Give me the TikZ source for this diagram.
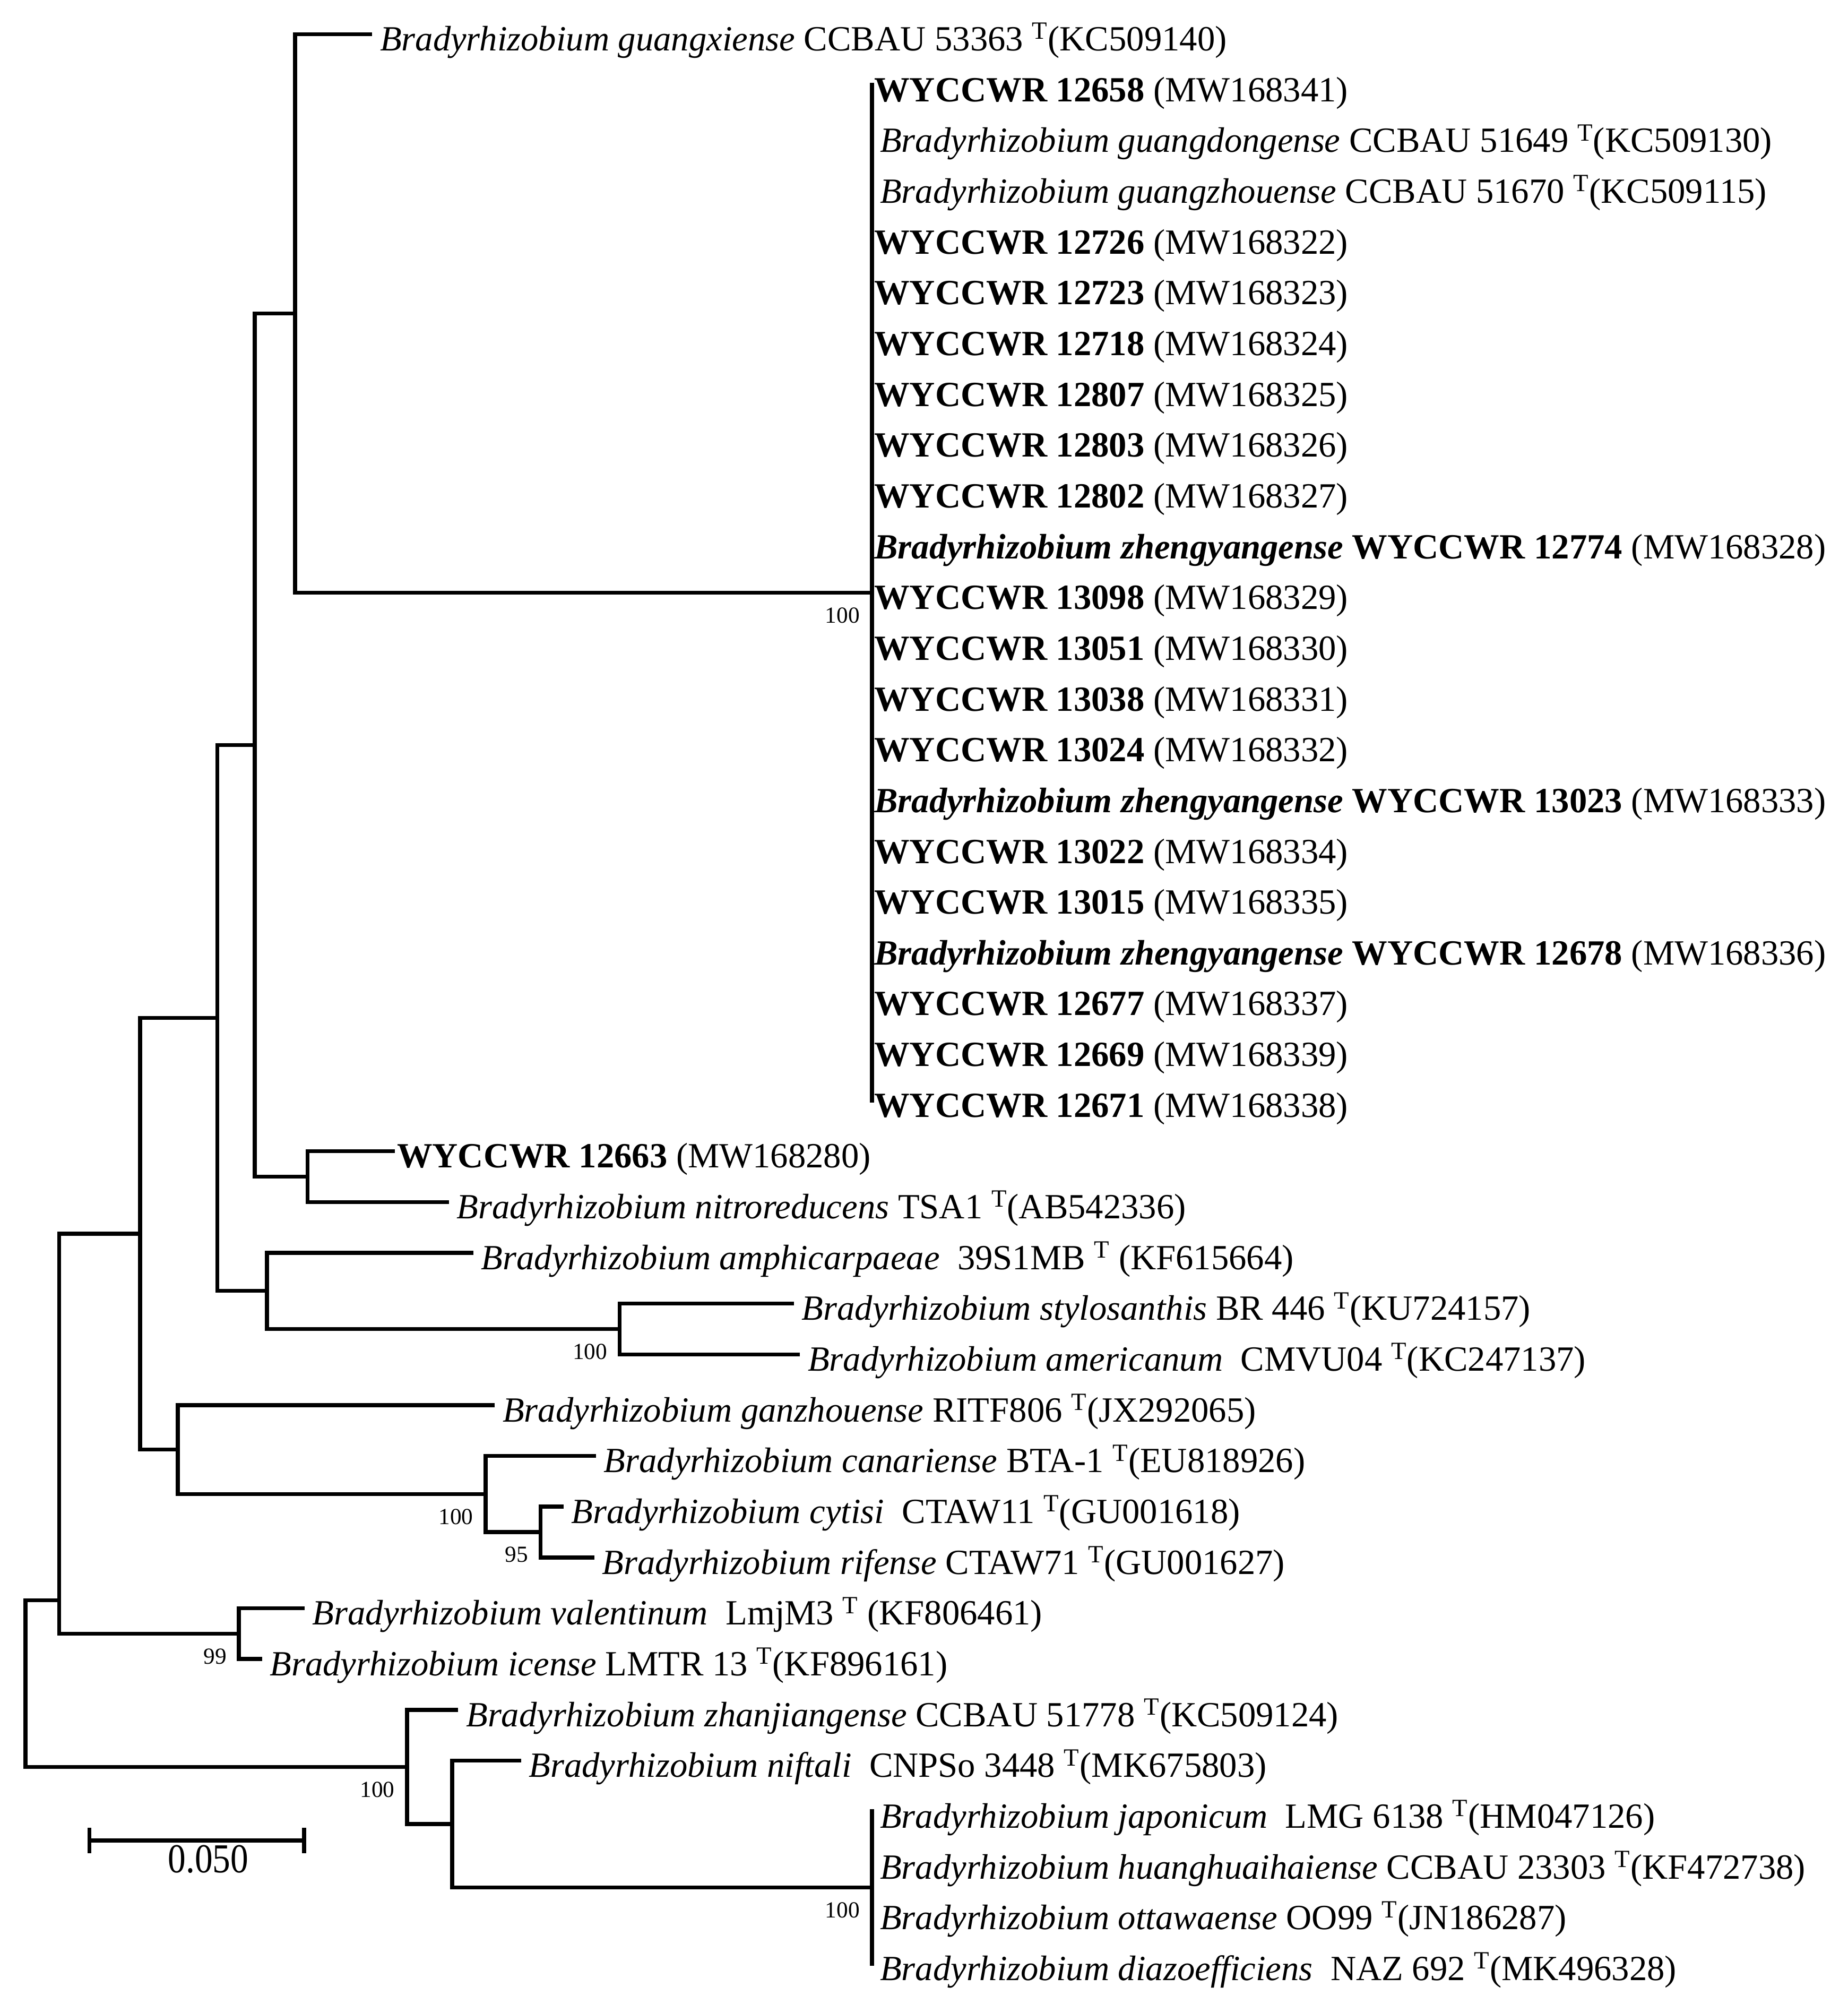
\documentclass[tikz,border=0pt]{standalone}
\usepackage{fontspec}
\setmainfont{Liberation Serif}
\usetikzlibrary{calc}
\newcommand\Tsup{\textsuperscript{T}}
\newcommand\rw[1]{26.7+39.73*(#1)}
\newcommand\Br{Bradyrhizobium}
\begin{document}
\begin{tikzpicture}[x=1pt,y=-1pt,
  br/.style={line width=3.1pt, line join=miter},
  clade/.style={line width=3.1pt, line cap=rect},
  lab/.style={anchor=base west, inner sep=0pt, yshift=-13pt, font=\fontsize{27.7}{30}\selectfont},
  labb/.style={lab, xshift=1.5pt},
  labi/.style={lab, xshift=6pt},
  boot/.style={anchor=base east, inner sep=0pt, xshift=-9.5pt, yshift=-23.6pt, font=\fontsize{18}{20}\selectfont}]
\useasboundingbox (0,0) rectangle (1446,1568);
% internal nodes
\coordinate (R) at (20,{\rw{30.84375}});
\coordinate (M) at (46.3,{\rw{27.5625}});
\coordinate (P) at (318.5,{\rw{34.125}});
\coordinate (K) at (109.7,{\rw{23.625}});
\coordinate (L) at (187,{\rw{31.5}});
\coordinate (G) at (170.2,{\rw{19.375}});
\coordinate (J) at (139.2,{\rw{27.875}});
\coordinate (D) at (199.3,{\rw{14}});
\coordinate (F) at (208.9,{\rw{24.75}});
\coordinate (A) at (231,{\rw{5.5}});
\coordinate (C) at (240.8,{\rw{22.5}});
\coordinate (B) at (682.5,{\rw{11}});
\coordinate (E) at (485,{\rw{25.5}});
\coordinate (I) at (380,{\rw{28.75}});
\coordinate (H) at (423,{\rw{29.5}});
\coordinate (O) at (353.8,{\rw{35.25}});
\coordinate (N) at (682.5,{\rw{36.5}});
% tips
\coordinate (t0) at (291.2,{\rw{0}});
\foreach \k in {1,...,21}{\coordinate (t\k) at (682.5,{\rw{\k}});}
\coordinate (t22) at (309,{\rw{22}});
\coordinate (t23) at (351.4,{\rw{23}});
\coordinate (t24) at (370.5,{\rw{24}});
\coordinate (t25) at (621.3,{\rw{25}});
\coordinate (t26) at (626,{\rw{26}});
\coordinate (t27) at (387.2,{\rw{27}});
\coordinate (t28) at (466.4,{\rw{28}});
\coordinate (t29) at (441,{\rw{29}});
\coordinate (t30) at (465,{\rw{30}});
\coordinate (t31) at (238.4,{\rw{31}});
\coordinate (t32) at (205,{\rw{32}});
\coordinate (t33) at (358.6,{\rw{33}});
\coordinate (t34) at (407.7,{\rw{34}});
\foreach \k in {35,...,38}{\coordinate (t\k) at (682.5,{\rw{\k}});}
% branches
\draw[br] (M) |- (R) |- (P);
\draw[br] (K) -| (M) |- (L);
\draw[br] (G) -| (K) |- (J);
\draw[br] (D) -| (G) |- (F);
\draw[br] (A) -| (D) |- (C);
\draw[br] (t0) -| (A) |- (B);
\draw[br] (t22) -| (C) |- (t23);
\draw[br] (t24) -| (F) |- (E);
\draw[br] (t25) -| (E) |- (t26);
\draw[br] (t27) -| (J) |- (I);
\draw[br] (t28) -| (I) |- (H);
\draw[br] (t29) -| (H) |- (t30);
\draw[br] (t31) -| (L) |- (t32);
\draw[br] (t33) -| (P) |- (O);
\draw[br] (t34) -| (O) |- (N);
\draw[clade] (t1) -- (t21);
\draw[clade] (t35) -- (t38);
% labels
\node[labi] (l0) at (t0) {\textit{\Br\ guangxiense} CCBAU 53363 \Tsup(KC509140)};
\node[labb] (l1) at (t1) {\textbf{WYCCWR 12658} (MW168341)};
\node[labi] (l2) at (t2) {\textit{\Br\ guangdongense} CCBAU 51649 \Tsup(KC509130)};
\node[labi] (l3) at (t3) {\textit{\Br\ guangzhouense} CCBAU 51670 \Tsup(KC509115)};
\node[labb] (l4) at (t4) {\textbf{WYCCWR 12726} (MW168322)};
\node[labb] (l5) at (t5) {\textbf{WYCCWR 12723} (MW168323)};
\node[labb] (l6) at (t6) {\textbf{WYCCWR 12718} (MW168324)};
\node[labb] (l7) at (t7) {\textbf{WYCCWR 12807} (MW168325)};
\node[labb] (l8) at (t8) {\textbf{WYCCWR 12803} (MW168326)};
\node[labb] (l9) at (t9) {\textbf{WYCCWR 12802} (MW168327)};
\node[labb] (l10) at (t10) {\textbf{\textit{\Br\ zhengyangense} WYCCWR 12774} (MW168328)};
\node[labb] (l11) at (t11) {\textbf{WYCCWR 13098} (MW168329)};
\node[labb] (l12) at (t12) {\textbf{WYCCWR 13051} (MW168330)};
\node[labb] (l13) at (t13) {\textbf{WYCCWR 13038} (MW168331)};
\node[labb] (l14) at (t14) {\textbf{WYCCWR 13024} (MW168332)};
\node[labb] (l15) at (t15) {\textbf{\textit{\Br\ zhengyangense} WYCCWR 13023} (MW168333)};
\node[labb] (l16) at (t16) {\textbf{WYCCWR 13022} (MW168334)};
\node[labb] (l17) at (t17) {\textbf{WYCCWR 13015} (MW168335)};
\node[labb] (l18) at (t18) {\textbf{\textit{\Br\ zhengyangense} WYCCWR 12678} (MW168336)};
\node[labb] (l19) at (t19) {\textbf{WYCCWR 12677} (MW168337)};
\node[labb] (l20) at (t20) {\textbf{WYCCWR 12669} (MW168339)};
\node[labb] (l21) at (t21) {\textbf{WYCCWR 12671} (MW168338)};
\node[labb] (l22) at (t22) {\textbf{WYCCWR 12663} (MW168280)};
\node[labi] (l23) at (t23) {\textit{\Br\ nitroreducens} TSA1 \Tsup(AB542336)};
\node[labi] (l24) at (t24) {\textit{\Br\ amphicarpaeae}\ \ 39S1MB \Tsup\ (KF615664)};
\node[labi] (l25) at (t25) {\textit{\Br\ stylosanthis} BR 446 \Tsup(KU724157)};
\node[labi] (l26) at (t26) {\textit{\Br\ americanum}\ \ CMVU04 \Tsup(KC247137)};
\node[labi] (l27) at (t27) {\textit{\Br\ ganzhouense} RITF806 \Tsup(JX292065)};
\node[labi] (l28) at (t28) {\textit{\Br\ canariense} BTA-1 \Tsup(EU818926)};
\node[labi] (l29) at (t29) {\textit{\Br\ cytisi}\ \ CTAW11 \Tsup(GU001618)};
\node[labi] (l30) at (t30) {\textit{\Br\ rifense} CTAW71 \Tsup(GU001627)};
\node[labi] (l31) at (t31) {\textit{\Br\ valentinum}\ \ LmjM3 \Tsup\ (KF806461)};
\node[labi] (l32) at (t32) {\textit{\Br\ icense} LMTR 13 \Tsup(KF896161)};
\node[labi] (l33) at (t33) {\textit{\Br\ zhanjiangense} CCBAU 51778 \Tsup(KC509124)};
\node[labi] (l34) at (t34) {\textit{\Br\ niftali}\ \ CNPSo 3448 \Tsup(MK675803)};
\node[labi] (l35) at (t35) {\textit{\Br\ japonicum}\ \ LMG 6138 \Tsup(HM047126)};
\node[labi] (l36) at (t36) {\textit{\Br\ huanghuaihaiense} CCBAU 23303 \Tsup(KF472738)};
\node[labi] (l37) at (t37) {\textit{\Br\ ottawaense} OO99 \Tsup(JN186287)};
\node[labi] (l38) at (t38) {\textit{\Br\ diazoefficiens}\ \ NAZ 692 \Tsup(MK496328)};
% bootstrap values
\node[boot] (bB) at (B) {100};
\node[boot] (bE) at (E) {100};
\node[boot] (bI) at (I) {100};
\node[boot] (bH) at (H) {95};
\node[boot] (bL) at (L) {99};
\node[boot] (bP) at (P) {100};
\node[boot] (bN) at (N) {100};
% scale bar
\coordinate (s1) at (70,1440);
\coordinate (s2) at (238,1440);
\draw[line width=3.6pt] (s1) -- (s2);
\draw[line width=3.2pt] ([yshift=10pt]s1) -- ([yshift=-10pt]s1);
\draw[line width=3.2pt] ([yshift=10pt]s2) -- ([yshift=-10pt]s2);
\node[anchor=base, inner sep=0pt, font=\fontsize{28}{30}\selectfont, yscale=1.15] (sl) at ($(s1)!0.5!(s2)+(9,25)$) {0.050};
\end{tikzpicture}
\end{document}
